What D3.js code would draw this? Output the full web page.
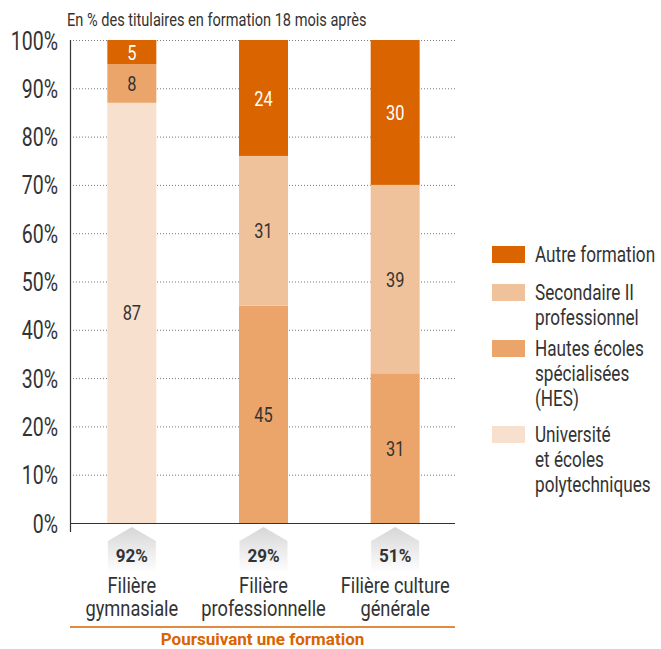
<!DOCTYPE html>
<html>
<head>
<meta charset="utf-8">
<script src="https://cdn.jsdelivr.net/npm/d3@7"></script>
<style>
  body { margin: 0; background: #fff; }
  svg text { font-family: "Roboto", "Liberation Sans", sans-serif; }
</style>
</head>
<body>
<svg id="chart" width="661" height="649"></svg>
<script>
// categories (one entry per bar, split on lines for the labels)
var categories = ["Filière gymnasiale", "Filière professionnelle", "Filière culture générale"];
var categoryLines = [["Filière", "gymnasiale"], ["Filière", "professionnelle"], ["Filière culture", "générale"]];

// series values, bottom to top
var universite = [87, 0, 0];
var hes = [8, 45, 31];
var secondaire = [0, 31, 39];
var autre = [5, 24, 30];

// share of holders still in education
var poursuivant = [92, 29, 51];

var seriesKeys = ["uni", "hes", "sec", "autre"];
var seriesColors = {uni: "#f8e0ce", hes: "#eba46a", sec: "#f0c29b", autre: "#d96400"};
var labelColors = {uni: "#333", hes: "#333", sec: "#333", autre: "#fff"};

// legend, top to bottom
var legendKeys = ["autre", "sec", "hes", "uni"];
var legendLabels = [["Autre formation"], ["Secondaire II", "professionnel"], ["Hautes écoles", "spécialisées", "(HES)"], ["Université", "et écoles", "polytechniques"]];

var yTicks = [0, 10, 20, 30, 40, 50, 60, 70, 80, 90, 100];

var rows = categories.map((c, i) => ({cat: c, uni: universite[i], hes: hes[i], sec: secondaire[i], autre: autre[i]}));

// no condensed face installed, so squeeze the text horizontally
var K = 0.78;
function squeeze(sel, k) {
    sel.each(function() {
        var t = d3.select(this);
        var tx = +t.attr("x") || 0, ty = +t.attr("y") || 0;
        t.attr("x", 0).attr("y", 0)
            .attr("transform", "translate(" + tx + "," + ty + ") scale(" + k + ",1)");
    });
}

var svg = d3.select("#chart");

var x = d3.scaleBand()
    .domain(categories)
    .range([66, 461])
    .paddingInner(0.628)
    .paddingOuter(0.314);

var y = d3.scaleLinear()
    .domain([0, 100])
    .range([523, 40]);

var gridLeft = 70, gridRight = 455;

// title
svg.append("text")
    .attr("x", 67)
    .attr("y", 26)
    .attr("font-size", 18)
    .attr("fill", "#333")
    .text("En % des titulaires en formation 18 mois après")
    .call(squeeze, 0.81);

// gridlines
svg.append("g")
    .selectAll("line")
    .data(yTicks.filter(d => d > 0))
    .enter()
    .append("line")
    .attr("x1", gridLeft)
    .attr("x2", gridRight)
    .attr("y1", d => y(d) + 0.5)
    .attr("y2", d => y(d) + 0.5)
    .attr("stroke", "#777")
    .attr("stroke-width", 1)
    .attr("stroke-dasharray", "1,2");

// y axis labels
var yAxis = svg.append("g")
    .attr("transform", "translate(" + gridLeft + ",0)")
    .call(d3.axisLeft(y).tickValues(yTicks).tickSize(0).tickPadding(12).tickFormat(d => d + "%"));
yAxis.select(".domain").remove();
yAxis.selectAll("text")
    .attr("font-size", 25)
    .attr("fill", "#333")
    .attr("dy", "0.36em")
    .call(squeeze, K);

// stacked bars
var stack = d3.stack().keys(seriesKeys)(rows);

var layers = svg.append("g")
    .selectAll("g")
    .data(stack)
    .enter()
    .append("g")
    .attr("fill", d => seriesColors[d.key]);

layers.selectAll("rect")
    .data(d => d.map(v => Object.assign(v, {key: d.key})))
    .enter()
    .append("rect")
    .attr("x", d => x(d.data.cat))
    .attr("width", x.bandwidth())
    .attr("y", d => y(d[1]))
    .attr("height", d => y(d[0]) - y(d[1]));

layers.selectAll("text")
    .data(d => d.filter(v => v[1] - v[0] > 0))
    .enter()
    .append("text")
    .attr("x", d => x(d.data.cat) + x.bandwidth() / 2)
    .attr("y", d => y((d[0] + d[1]) / 2))
    .attr("dy", "0.36em")
    .attr("text-anchor", "middle")
    .attr("font-size", 21)
    .attr("fill", d => labelColors[d.key])
    .text(d => d[1] - d[0])
    .call(squeeze, K);

// axis lines
svg.append("line")
    .attr("x1", gridLeft + 0.5).attr("x2", gridLeft + 0.5)
    .attr("y1", y(100)).attr("y2", 532)
    .attr("stroke", "#333").attr("stroke-width", 1.2);

svg.append("line")
    .attr("x1", gridLeft).attr("x2", gridRight)
    .attr("y1", y(0) + 0.5).attr("y2", y(0) + 0.5)
    .attr("stroke", "#333").attr("stroke-width", 1.2);

// grey arrows under the bars
var grad = svg.append("defs").append("linearGradient")
    .attr("id", "arrowFade")
    .attr("x1", 0).attr("y1", 0).attr("x2", 0).attr("y2", 1);
grad.append("stop").attr("offset", "0%").attr("stop-color", "#d6d6d6");
grad.append("stop").attr("offset", "100%").attr("stop-color", "#fff");

var arrows = svg.append("g")
    .selectAll("g")
    .data(categories)
    .enter()
    .append("g")
    .attr("transform", d => "translate(" + (x(d) + x.bandwidth() / 2) + ",0)");

arrows.append("path")
    .attr("d", "M-24,541 L0,527 L24,541 L24,573 L-24,573 Z")
    .attr("fill", "url(#arrowFade)");

arrows.append("text")
    .attr("y", 562)
    .attr("text-anchor", "middle")
    .attr("font-size", 18)
    .attr("font-weight", "bold")
    .attr("fill", "#333")
    .text((d, i) => poursuivant[i] + "%")
    .call(squeeze, 0.95);

// category label, two lines in one text
var catText = arrows.append("text")
    .attr("y", 593)
    .attr("text-anchor", "middle")
    .attr("font-size", 22)
    .attr("fill", "#333");
catText.selectAll("tspan")
    .data((d, i) => categoryLines[i])
    .enter()
    .append("tspan")
    .attr("x", 0)
    .attr("dy", (d, i) => i === 0 ? 0 : 23)
    .text(d => d);
catText.call(squeeze, 0.83);

// bottom bracket
svg.append("line")
    .attr("x1", gridLeft).attr("x2", gridRight)
    .attr("y1", 627).attr("y2", 627)
    .attr("stroke", "#d96400").attr("stroke-width", 1.5);

svg.append("text")
    .attr("x", (gridLeft + gridRight) / 2)
    .attr("y", 645)
    .attr("text-anchor", "middle")
    .attr("font-size", 17)
    .attr("font-weight", "bold")
    .attr("fill", "#d96400")
    .text("Poursuivant une formation")
    .call(squeeze, 1.0);

// legend
var legendTops = [246, 284, 340, 426];
var legend = svg.append("g")
    .selectAll("g")
    .data(legendKeys)
    .enter()
    .append("g")
    .attr("transform", (d, i) => "translate(492," + legendTops[i] + ")");

legend.append("rect")
    .attr("width", 33)
    .attr("height", 17)
    .attr("fill", d => seriesColors[d]);

legend.selectAll("text")
    .data((d, i) => legendLabels[i])
    .enter()
    .append("text")
    .attr("x", 43)
    .attr("y", (d, i) => 16 + i * 25)
    .attr("font-size", 22)
    .attr("fill", "#333")
    .text(d => d)
    .call(squeeze, K);
</script>
</body>
</html>
